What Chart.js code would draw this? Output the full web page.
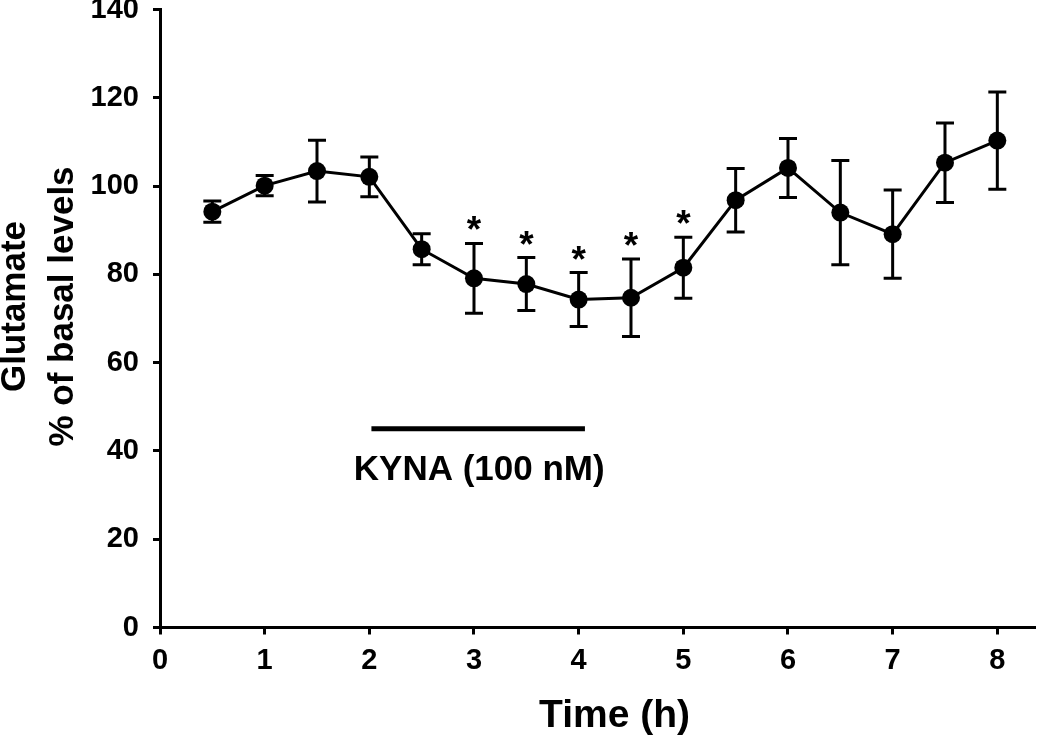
<!DOCTYPE html>
<html>
<head>
<meta charset="utf-8">
<script src="https://cdn.jsdelivr.net/npm/chart.js@4.4.1/dist/chart.umd.min.js"></script>
<style>
  html, body { margin: 0; padding: 0; background: #fff; }
</style>
</head>
<body>
<canvas id="chart" width="1050" height="736"></canvas>
<script>
// data
const timeH = [0.5, 1, 1.5, 2, 2.5, 3, 3.5, 4, 4.5, 5, 5.5, 6, 6.5, 7, 7.5, 8];
const glutamate = [94.2, 100.1, 103.4, 102.1, 85.7, 79.1, 77.8, 74.3, 74.7, 81.5, 96.8, 104.1, 94.0, 89.1, 105.3, 110.3];
const sem = [2.4, 2.3, 7.0, 4.5, 3.5, 7.9, 6.0, 6.1, 8.8, 6.9, 7.2, 6.7, 11.8, 10.0, 9.0, 11.0];
const significant = [3, 3.5, 4, 4.5, 5];
const kynaSpan = [2.02, 4.06];
const kynaLevel = 45;
const kynaLabel = "KYNA (100 nM)";
const kynaLabelAt = [3.05, 35.7];
const xTitle = "Time (h)";
const yTitle = ["Glutamate", "% of basal levels"];

const FONT = "'Liberation Sans', Arial, Helvetica, sans-serif";
Chart.defaults.font.family = FONT;
Chart.defaults.color = "#000";

const points = timeH.map((t, i) => ({ x: t, y: glutamate[i] }));

// error bars, asterisks, KYNA bar and axis titles
const extras = {
  id: "extras",
  beforeDatasetsDraw(chart) {
    const { ctx, scales: { x, y } } = chart;
    ctx.save();
    ctx.strokeStyle = "#000";
    ctx.lineWidth = 3;
    timeH.forEach((t, i) => {
      const px = x.getPixelForValue(t);
      const top = y.getPixelForValue(glutamate[i] + sem[i]);
      const bot = y.getPixelForValue(glutamate[i] - sem[i]);
      ctx.beginPath();
      ctx.moveTo(px, top); ctx.lineTo(px, bot);
      ctx.moveTo(px - 9, top); ctx.lineTo(px + 9, top);
      ctx.moveTo(px - 9, bot); ctx.lineTo(px + 9, bot);
      ctx.stroke();
    });
    ctx.restore();
  },
  afterDatasetsDraw(chart) {
    const { ctx, chartArea, scales: { x, y } } = chart;
    ctx.save();
    ctx.fillStyle = "#000";
    ctx.font = "bold 37px " + FONT;
    ctx.textAlign = "center";
    ctx.textBaseline = "alphabetic";
    const m = ctx.measureText("*");
    const mid = (m.actualBoundingBoxAscent - m.actualBoundingBoxDescent) / 2;
    significant.forEach(t => {
      const i = timeH.indexOf(t);
      const px = x.getPixelForValue(t);
      const py = y.getPixelForValue(glutamate[i] + sem[i]) - 20;
      ctx.fillText("*", px, py + mid);
    });

    ctx.strokeStyle = "#000";
    ctx.lineWidth = 5;
    ctx.beginPath();
    ctx.moveTo(x.getPixelForValue(kynaSpan[0]), y.getPixelForValue(kynaLevel));
    ctx.lineTo(x.getPixelForValue(kynaSpan[1]), y.getPixelForValue(kynaLevel));
    ctx.stroke();

    ctx.font = "bold 35px " + FONT;
    ctx.textBaseline = "middle";
    ctx.fillText(kynaLabel, x.getPixelForValue(kynaLabelAt[0]), y.getPixelForValue(kynaLabelAt[1]));

    // axis titles
    const cx = (chartArea.left + chartArea.right) / 2;
    const cy = (chartArea.top + chartArea.bottom) / 2;
    ctx.textBaseline = "alphabetic";
    ctx.font = "bold 39px " + FONT;
    ctx.fillText(xTitle, cx + 17, 727);

    ctx.font = "bold 35px " + FONT;
    ctx.translate(0, cy - 12);
    ctx.rotate(-Math.PI / 2);
    ctx.fillText(yTitle[0], 0, 25);
    ctx.fillText(yTitle[1], 0, 73);
    ctx.restore();
  }
};

new Chart(document.getElementById("chart"), {
  type: "line",
  data: {
    datasets: [{
      data: points,
      borderColor: "#000",
      borderWidth: 3,
      backgroundColor: "#000",
      pointRadius: 9,
      pointBackgroundColor: "#000",
      pointBorderWidth: 0,
      tension: 0,
      clip: false
    }]
  },
  options: {
    responsive: false,
    animation: false,
    devicePixelRatio: 1,
    layout: { padding: { top: 9.5, right: 15, left: 0, bottom: 0 } },
    plugins: { legend: { display: false }, tooltip: { enabled: false } },
    scales: {
      x: {
        type: "linear",
        min: 0,
        max: 8.36,
        afterFit(s) { s.height = 108.5; s.paddingLeft = 0; s.paddingRight = 0; },
        border: { display: true, color: "#000", width: 3 },
        grid: { drawOnChartArea: false, drawTicks: true, tickLength: 7, tickWidth: 3, tickColor: "#000" },
        ticks: {
          stepSize: 1,
          includeBounds: false,
          padding: 9,
          maxRotation: 0,
          font: { size: 29, weight: "bold" },
          color: "#000"
        },
        title: { display: false }
      },
      y: {
        min: 0,
        max: 140,
        afterFit(s) { s.width = 160; s.paddingTop = 0; s.paddingBottom = 0; },
        border: { display: true, color: "#000", width: 3 },
        grid: { drawOnChartArea: false, drawTicks: true, tickLength: 7, tickWidth: 3, tickColor: "#000" },
        ticks: {
          stepSize: 20,
          padding: 14,
          font: { size: 29, weight: "bold" },
          color: "#000"
        },
        title: { display: false }
      }
    }
  },
  plugins: [extras]
});
</script>
</body>
</html>
